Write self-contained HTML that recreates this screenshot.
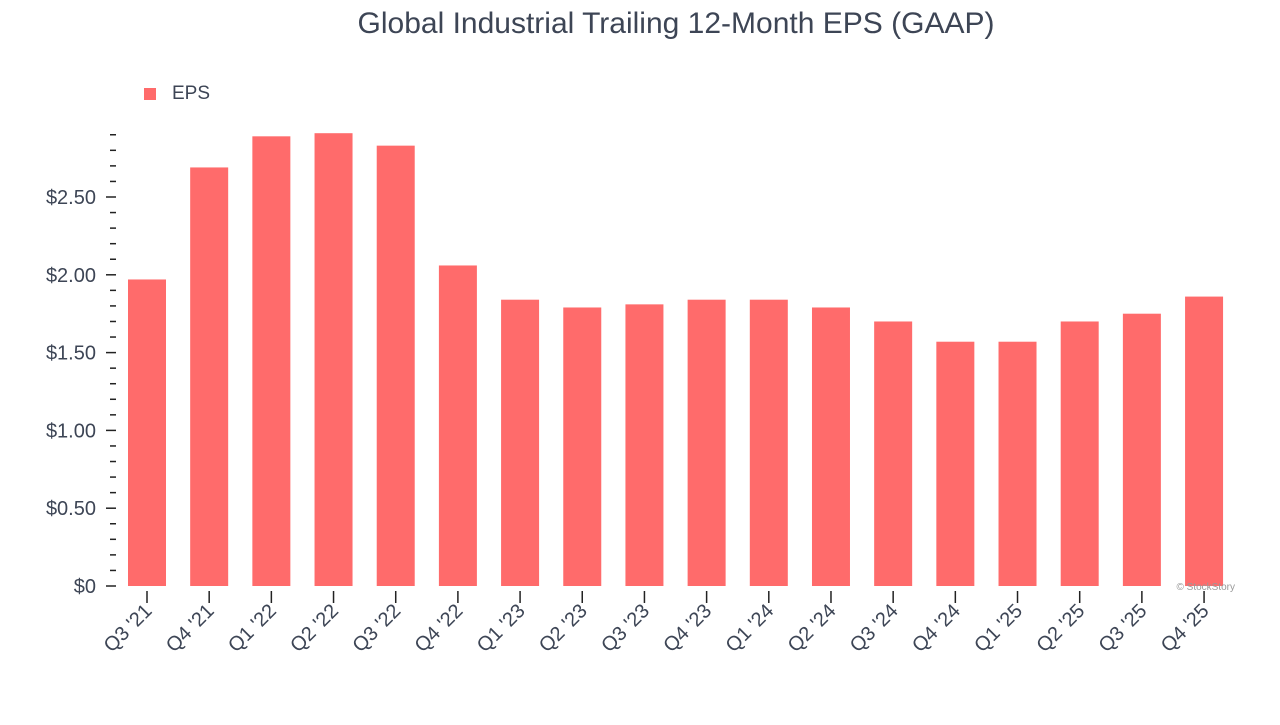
<!DOCTYPE html>
<html><head><meta charset="utf-8"><style>
body{margin:0;background:#fff;font-family:"Liberation Sans",Arial,sans-serif;}
svg text{font-family:"Liberation Sans",Arial,sans-serif;}
</style></head><body>
<svg id="c" width="1280" height="720">
<text x="676" y="33" text-anchor="middle" font-size="30" fill="#3d4555">Global Industrial Trailing 12-Month EPS (GAAP)</text>
<rect x="144" y="88" width="12" height="12" fill="#ff6b6b"/>
<text x="172" y="99" font-size="19" fill="#3d4555">EPS</text>
<g id="axis"></g><g id="bars"></g>
<text x="1235" y="590" text-anchor="end" font-size="10" fill="#999">© StockStory</text>
</svg>
<script>
const categories=["Q3 '21","Q4 '21","Q1 '22","Q2 '22","Q3 '22","Q4 '22","Q1 '23","Q2 '23","Q3 '23","Q4 '23","Q1 '24","Q2 '24","Q3 '24","Q4 '24","Q1 '25","Q2 '25","Q3 '25","Q4 '25"];
const epsValues=[1.97,2.69,2.89,2.91,2.83,2.06,1.84,1.79,1.81,1.84,1.84,1.79,1.70,1.57,1.57,1.70,1.75,1.86];
const tickValues=[0,0.5,1,1.5,2,2.5];
const tickLabels=["$0","$0.50","$1.00","$1.50","$2.00","$2.50"];
const NS="http://www.w3.org/2000/svg";
const y=v=>586-v*155.6;
const x=i=>147+i*62.18;
const ax=document.getElementById('axis'),bg=document.getElementById('bars');
function mk(t,a,p){const e=document.createElementNS(NS,t);for(const k in a)e.setAttribute(k,a[k]);p.appendChild(e);return e;}
for(let k=0;k<=29;k++){const v=k/10;const maj=k%5===0;
 const l=mk('line',{x1:maj?106:110,x2:116,y1:y(v),y2:y(v),stroke:'#222','stroke-width':1.5},ax);
 
 }
tickValues.forEach((v,i)=>{const t=mk('text',{x:96,y:y(v)+7,'text-anchor':'end','font-size':20,fill:'#3d4555'},ax);t.textContent=tickLabels[i];
 
 });
categories.forEach((c,i)=>{
 const r=mk('rect',{x:x(i)-19,y:y(epsValues[i]),width:38,height:586-y(epsValues[i]),fill:'#ff6b6b'},bg);
 
 
 const tk=mk('line',{x1:x(i),x2:x(i),y1:591,y2:603,stroke:'#222','stroke-width':1.5},ax);
 
 
 const t=mk('text',{x:x(i)+6,y:612,'text-anchor':'end','font-size':20,fill:'#3d4555',transform:`rotate(-45 ${x(i)+6} 612)`},ax);t.textContent=c;
 
 
});
</script>
</body></html>
